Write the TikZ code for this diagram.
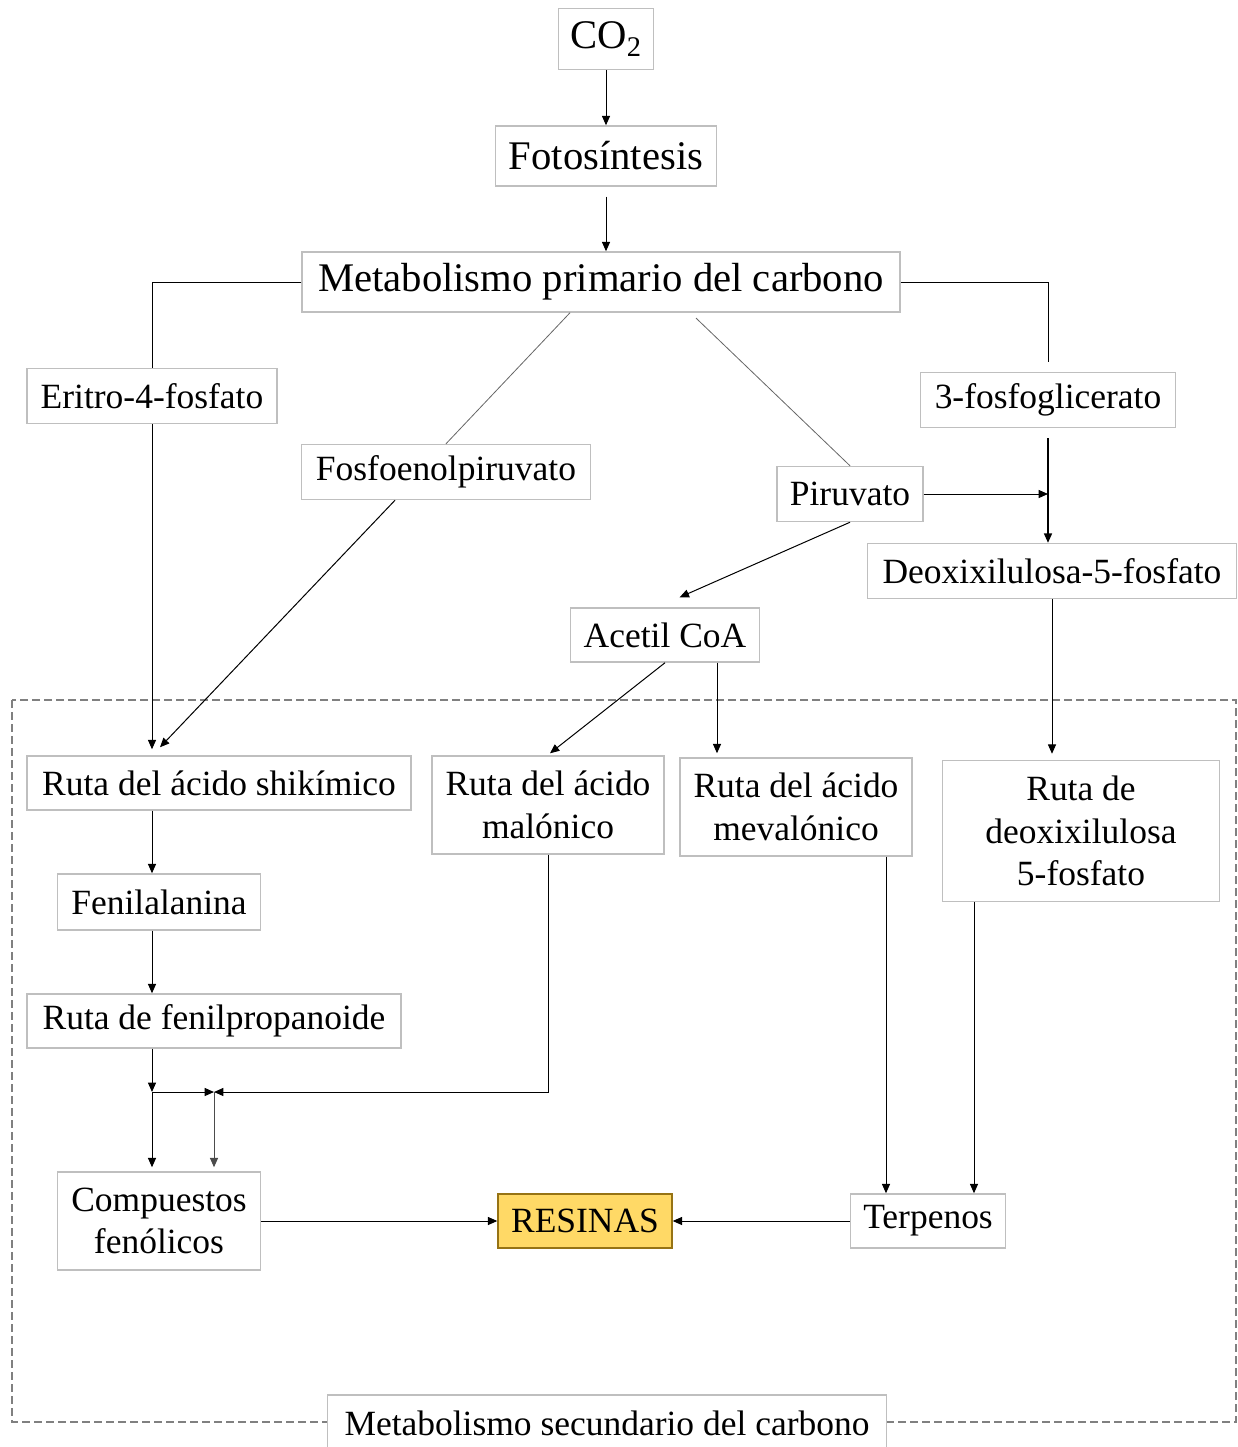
\documentclass[tikz,border=0pt]{standalone}
\usepackage{fontspec}
\setmainfont{Liberation Serif}
\usetikzlibrary{arrows.meta}

\begin{document}
\begin{tikzpicture}[x=0.75pt,y=-0.75pt,>={Triangle[length=7pt,width=6pt]},line width=0.75pt,
  box/.style={draw=black!25,line width=1.1pt,fill=white,inner sep=0pt,align=center,
    font=\fontsize{26.6}{32}\selectfont},
  bigbox/.style={box,font=\fontsize{30.5}{36}\selectfont},
  wh/.style 2 args={minimum width=#1*0.75pt,minimum height=#2*0.75pt},
  thin/.style={black!60,line width=0.6pt}]
  \useasboundingbox (0,0) rectangle (1238,1447);

  % zona del metabolismo secundario
  \draw[black!50,line width=1.5pt,dash pattern=on 6pt off 3pt] (12,700) rectangle (1236,1422);

  % cajas
  \node[bigbox,wh={95}{61}] (co2) at (606,39) {CO\textsubscript{2}};
  \node[bigbox,wh={221}{60}] (foto) at (606,156) {Fotosíntesis};
  \node[bigbox,wh={598}{60}] (prim) at (601,282) {Metabolismo primario del carbono};
  \node[box,wh={250}{55}] (eritro) at (152,396) {Eritro-4-fosfato};
  \node[box,wh={255}{55}] (fosfo) at (1048,400) {3-fosfoglicerato};
  \node[box,wh={289}{55}] (pep) at (446,472) {Fosfoenolpiruvato};
  \node[box,wh={146}{55}] (piru) at (850,494) {Piruvato};
  \node[box,wh={369}{55}] (dxp) at (1052,571) {Deoxixilulosa-5-fosfato};
  \node[box,wh={189}{54}] (acetil) at (665,635) {Acetil CoA};
  \node[box,wh={384}{54}] (shik) at (219,783) {Ruta del ácido shikímico};
  \node[box,wh={232}{98}] (malo) at (548,805) {Ruta del ácido\\malónico};
  \node[box,wh={232}{98}] (meva) at (796,807) {Ruta del ácido\\mevalónico};
  \node[box,wh={277}{141}] (rdxp) at (1081,831) {Ruta de\\deoxixilulosa\\5-fosfato};
  \node[box,wh={203}{56}] (fenil) at (159,902) {Fenilalanina};
  \node[box,wh={374}{54}] (fprop) at (214,1021) {Ruta de fenilpropanoide};
  \node[box,wh={203}{98}] (fenol) at (159,1221) {Compuestos\\fenólicos};
  \node[box,wh={174}{54},draw={rgb,255:red,150;green,115;blue,20},fill={rgb,255:red,255;green,217;blue,102}] (resinas) at (585,1221) {RESINAS};
  \node[box,wh={155}{54}] (terp) at (928,1221) {Terpenos};
  \node[box,wh={559}{56}] (sec) at (607,1423) {Metabolismo secundario del carbono};

  \coordinate (j1) at (152,1092);
  \coordinate (j2) at (214,1092);

  % parte primaria
  \draw[->] (co2) -- (foto);
  \draw[->] ([yshift=-7.5pt]foto.south) -- (foto.south |- prim.north);
  \draw (prim.west) -| (eritro.north);
  \draw[thin] ([xshift=-23.25pt]prim.south) -- (pep.north);
  \draw[thin] ([xshift=71.25pt,yshift=-4pt]prim.south) -- (piru.north);
  \draw (prim.east) -| ([yshift=7pt]fosfo.north);
  \draw[->,line width=1.1pt] ([yshift=-7.5pt]fosfo.south) -- (fosfo.south |- dxp.north);
  \draw[->] (piru.east) -- (fosfo.south |- piru.east);
  \draw[->] (piru.south) -- ([xshift=11pt,yshift=7.5pt]acetil.north);

  % hacia el metabolismo secundario
  \draw[->] (eritro.south) -- ([yshift=4.5pt]eritro.south |- shik.north);
  \draw[->] ([xshift=-38.25pt]pep.south) -- ([xshift=-44.25pt,yshift=6pt]shik.north);
  \draw[->] (acetil.south) -- ([xshift=1.5pt,yshift=1.5pt]malo.north);
  \draw[->] ([xshift=39pt]acetil.south) -- ([xshift=39pt,yshift=3pt]acetil.south |- meva.north);
  \draw[->] (dxp.south) -- ([yshift=4.5pt]dxp.south |- rdxp.north);

  % ruta fenolica
  \draw[->] (eritro.south |- shik.south) -- (eritro.south |- fenil.north);
  \draw[->] (eritro.south |- fenil.south) -- (eritro.south |- fprop.north);
  \draw[->] (eritro.south |- fprop.south) -- (j1);
  \draw[->] (j1) -- ([yshift=3pt]j1 |- fenol.north);
  \draw[->] (j1) -- (j2);
  \draw[->] (malo.south) |- (j2);
  \draw[->,black!70] (j2) -- ([yshift=3pt]j2 |- fenol.north);

  % terpenos y resinas
  \draw[->] ([xshift=67.5pt]meva.south) -- ([xshift=67.5pt]meva.south |- terp.north);
  \draw[->] ([xshift=-80.25pt]rdxp.south) -- ([xshift=-80.25pt]rdxp.south |- terp.north);
  \draw[->] (fenol.east) -- (resinas.west);
  \draw[->] (terp.west) -- (resinas.east);
\end{tikzpicture}
\end{document}
